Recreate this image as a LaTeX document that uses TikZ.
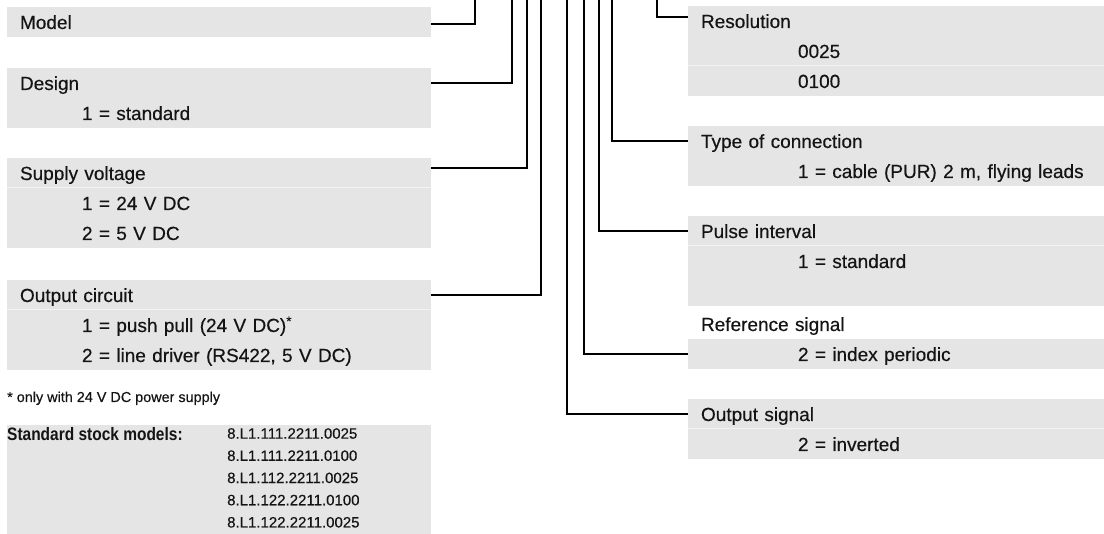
\documentclass[tikz,border=0pt]{standalone}
\usepackage{fontspec}
\setmainfont{Liberation Sans}[FakeBold=0.4]
\newfontfamily\stockfont{Liberation Sans}[FakeStretch=0.86]
\usetikzlibrary{positioning}
\definecolor{boxgray}{HTML}{E5E5E5}
\definecolor{sepgray}{HTML}{F3F3F3}
\definecolor{ink}{HTML}{141414}

\begin{document}
\begin{tikzpicture}[x=1pt, y=-1pt, node distance=0pt, text=ink]
  \tikzstyle{bar} = [fill=boxgray, anchor=north west, minimum height=30pt, inner xsep=13pt, inner ysep=0pt, outer sep=0pt, align=left, text height=15pt, text depth=1pt, font=\fontsize{19}{22}\selectfont]
  \tikzstyle{lrow} = [bar, text width=398pt]
  \tikzstyle{rrow} = [bar, text width=390pt]
  \tikzstyle{lopt} = [lrow, execute at begin node={\hspace*{62pt}}]
  \tikzstyle{ropt} = [rrow, execute at begin node={\hspace*{97pt}}]
  \tikzstyle{wire} = [draw, line width=2pt]
  \tikzstyle{rowsep} = [draw=sepgray, line width=1pt]
  \tikzstyle{tmp} = [coordinate]
  \useasboundingbox [fill=white] (0,0) rectangle (1104,534);

  % left column
  \node [lrow] (model) at (7,7) {Model};
  \node [lrow, below=31pt of model] (design) {Design};
  \node [lopt, below=of design] (design-1) {1 = standard};
  \node [lrow, below=30pt of design-1] (supply) {Supply voltage};
  \node [lopt, below=of supply] (supply-1) {1 = 24 V DC};
  \node [lopt, below=of supply-1] (supply-2) {2 = 5 V DC};
  \node [lrow, below=32pt of supply-2] (outc) {Output circuit};
  \node [lopt, below=of outc] (outc-1) {1 = push pull (24 V DC)\textsuperscript{*}};
  \node [lopt, below=of outc-1] (outc-2) {2 = line driver (RS422, 5 V DC)};
  \node [anchor=base west, inner sep=0pt, font=\fontsize{14.4}{16}\selectfont] (note) at (7,402) {* only with 24 V DC power supply};

  \node [fill=boxgray, anchor=north west, minimum width=424pt, minimum height=109pt, inner sep=0pt] (stock) at (7,425) {};
  \node [anchor=north west, inner sep=0pt, font=\stockfont\bfseries\fontsize{18}{20}\selectfont] (stock-title) at (7,427) {Standard stock models:};
  \node [anchor=north west, inner sep=0pt, align=left, font=\fontsize{15}{22.2}\selectfont] (stock-list) at (227,428) {8.L1.111.2211.0025\\8.L1.111.2211.0100\\8.L1.112.2211.0025\\8.L1.122.2211.0100\\8.L1.122.2211.0025};

  % right column
  \node [rrow] (res) at (688,6) {Resolution};
  \node [ropt, below=of res] (res-1) {0025};
  \node [ropt, below=of res-1] (res-2) {0100};
  \node [rrow, below=30pt of res-2] (type) {Type of connection};
  \node [ropt, below=of type] (type-1) {1 = cable (PUR) 2 m, flying leads};
  \node [rrow, below=30pt of type-1] (pulse) {Pulse interval};
  \node [ropt, below=of pulse] (pulse-1) {1 = standard};
  \node [ropt, below=of pulse-1] (pulse-2) {};
  \node [rrow, fill=none, below=3pt of pulse-2] (ref) {Reference signal};
  \node [ropt, below=of ref] (ref-1) {2 = index periodic};
  \node [rrow, below=30pt of ref-1] (outs) {Output signal};
  \node [ropt, below=of outs] (outs-1) {2 = inverted};

  \draw [rowsep] (supply.south west) -- (supply.south east);
  \draw [rowsep] (outc.south west) -- (outc.south east);
  \draw [rowsep] (res-1.south west) -- (res-1.south east);
  \draw [rowsep] (pulse.south west) -- (pulse.south east);
  \draw [rowsep] (outs.south west) -- (outs.south east);

  % code positions at the top edge
  \node [tmp] (top-model) at (475,0) {};
  \node [tmp] (top-design) at (512,0) {};
  \node [tmp] (top-supply) at (527,0) {};
  \node [tmp] (top-outc) at (541,0) {};
  \node [tmp] (top-outs) at (567,0) {};
  \node [tmp] (top-ref) at (584,0) {};
  \node [tmp] (top-pulse) at (599,0) {};
  \node [tmp] (top-type) at (612,0) {};
  \node [tmp] (top-res) at (657,0) {};

  \draw [wire] ([yshift=-2pt]model.east) -| (top-model);
  \draw [wire] (design.east) -| (top-design);
  \draw [wire] ([yshift=5pt]supply.east) -| (top-supply);
  \draw [wire] (outc.east) -| (top-outc);
  \draw [wire] ([yshift=4pt]res.west) -| (top-res);
  \draw [wire] (type.west) -| (top-type);
  \draw [wire] (pulse.west) -| (top-pulse);
  \draw [wire] (ref-1.west) -| (top-ref);
  \draw [wire] (outs.west) -| (top-outs);
\end{tikzpicture}
\end{document}
